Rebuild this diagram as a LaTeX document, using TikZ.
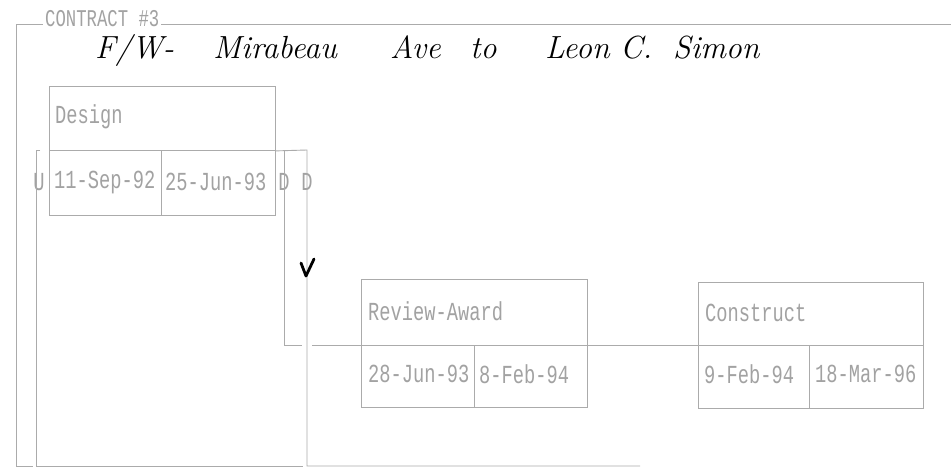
\documentclass[tikz,border=0pt]{standalone}
\usepackage{fontspec}
\newfontfamily\dotfont[FakeStretch=0.72]{Liberation Mono}
\definecolor{scanline}{HTML}{ABABAB}
\definecolor{scantext}{HTML}{A2A2A2}

\begin{document}
\begin{tikzpicture}[x=1pt,y=-1pt,
  cell/.style={draw=scanline,line width=0.9pt,inner sep=0pt,anchor=north west},
  txt/.style={text=scantext,font=\dotfont\fontsize{26}{26}\selectfont,inner sep=0pt,anchor=west},
  lane/.style={draw=scanline,line width=0.9pt}]
\useasboundingbox[fill=white] (0,0) rectangle (951,471);

% outer frame of the contract
\draw[lane] (951,24) -- (16,24) -- (16,466) -- (33,466);
\node[txt,fill=white,inner xsep=2pt,inner ysep=1pt,font=\dotfont\fontsize{24}{24}\selectfont] (contract) at (43,19) {CONTRACT \#3};

% handwritten heading
\node[anchor=base west,inner sep=0pt,font=\itshape\fontsize{32}{32}\selectfont] (heading) at (95,58)
  {\makebox[118pt][l]{F/W-}\makebox[177pt][l]{Mirabeau}\makebox[80pt][l]{Ave}\makebox[75pt][l]{to}\makebox[75pt][l]{Leon}\makebox[53pt][l]{C.}Simon};

% Design
\node[cell,minimum width=226pt,minimum height=64pt] (design) at (49,86) {};
\node[cell,minimum width=112pt,minimum height=65pt] (designstart) at (49,150) {};
\node[cell,minimum width=114pt,minimum height=65pt] (designend) at (161,150) {};
\node[txt] (designname) at (55,117) {Design};
\node[txt] (designfrom) at (54,182) {11-Sep-92};
\node[txt] (designto) at (165,182) {25-Jun-93};

% Review-Award
\node[cell,minimum width=226pt,minimum height=66pt] (review) at (361,279) {};
\node[cell,minimum width=113pt,minimum height=62pt] (reviewstart) at (361,345) {};
\node[cell,minimum width=113pt,minimum height=62pt] (reviewend) at (474,345) {};
\node[txt] (reviewname) at (368,311) {Review-Award};
\node[txt] (reviewfrom) at (368,374) {28-Jun-93};
\node[txt] (reviewto) at (479,374) {8-Feb-94};

% Construct
\node[cell,minimum width=225pt,minimum height=63pt] (construct) at (698,282) {};
\node[cell,minimum width=111pt,minimum height=63pt] (constructstart) at (698,345) {};
\node[cell,minimum width=114pt,minimum height=63pt] (constructend) at (809,345) {};
\node[txt] (constructname) at (705,313) {Construct};
\node[txt] (constructfrom) at (704,374) {9-Feb-94};
\node[txt] (constructto) at (815,374) {18-Mar-96};

% lanes
\node[txt,anchor=center] (ulabel) at (39,182) {U};
\node[txt,anchor=center] (dfirst) at (284,182) {D};
\node[txt,anchor=center] (dsecond) at (307,182) {D};
\coordinate (ulanetop) at (40,150);
\coordinate (dfirstbend) at (284,345);
\coordinate (dsecondfoot) at (307,466);
\draw[lane] (ulanetop) -- (36,150) -- (36,466) -- (303,466);
\draw[lane] (design.south east) -- (307,150) -- (dsecondfoot) -- (640,466);
\draw[lane] (284,150) -- (dfirstbend) -- (302,345);
\draw[lane] (312,345) -- (reviewstart.north west);
\draw[lane] (reviewend.north east) -- (constructstart.north west);

% check mark
\draw[line width=2.8pt,line cap=round,line join=round] (301,263) -- (306,276) -- (314,259);
\end{tikzpicture}
\end{document}
